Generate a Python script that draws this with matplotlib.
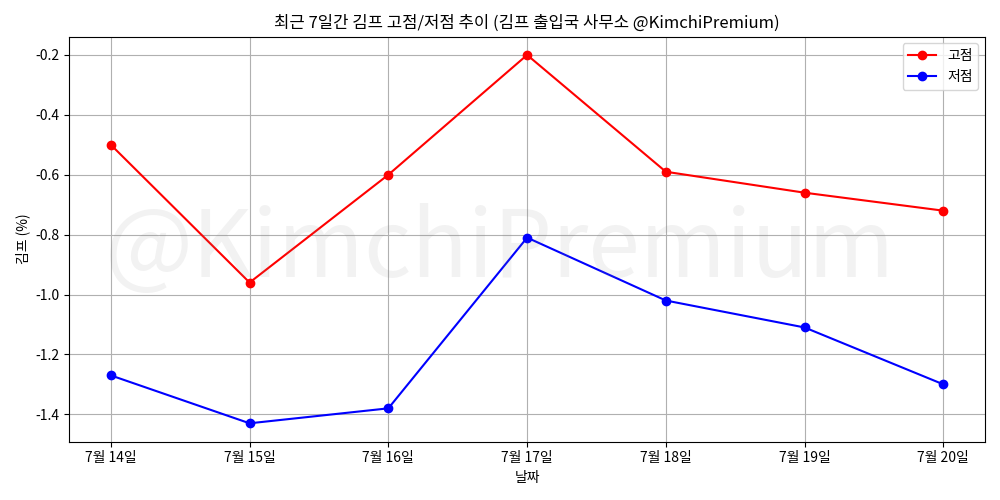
import matplotlib
matplotlib.use("Agg")
import matplotlib.pyplot as plt

plt.rcParams['font.family'] = ['Noto Sans CJK KR', 'DejaVu Sans']
plt.rcParams['axes.unicode_minus'] = False

dates = ["7월 14일", "7월 15일", "7월 16일", "7월 17일", "7월 18일", "7월 19일", "7월 20일"]
high = [-0.50, -0.96, -0.60, -0.20, -0.59, -0.66, -0.72]
low = [-1.27, -1.43, -1.38, -0.81, -1.02, -1.11, -1.30]

fig, ax = plt.subplots(figsize=(10, 5), dpi=100)
x = list(range(len(dates)))
ax.plot(x, high, marker='o', color='red', label='고점')
ax.plot(x, low, marker='o', color='blue', label='저점')
ax.set_xticks(x)
ax.set_xticklabels(dates)
ax.set_title('최근 7일간 김프 고점/저점 추이 (김프 출입국 사무소 @KimchiPremium)')
ax.set_xlabel('날짜')
ax.set_ylabel('김프 (%)')
ax.grid(True)
ax.legend(loc='upper right')
fig.tight_layout()
wm = fig.text(0.5, 0.5, '@KimchiPremium', fontsize=67,
              color='gray', alpha=0.1, ha='center', va='center', zorder=0)
wm.set_in_layout(False)
fig.savefig('out.png', dpi=100)
